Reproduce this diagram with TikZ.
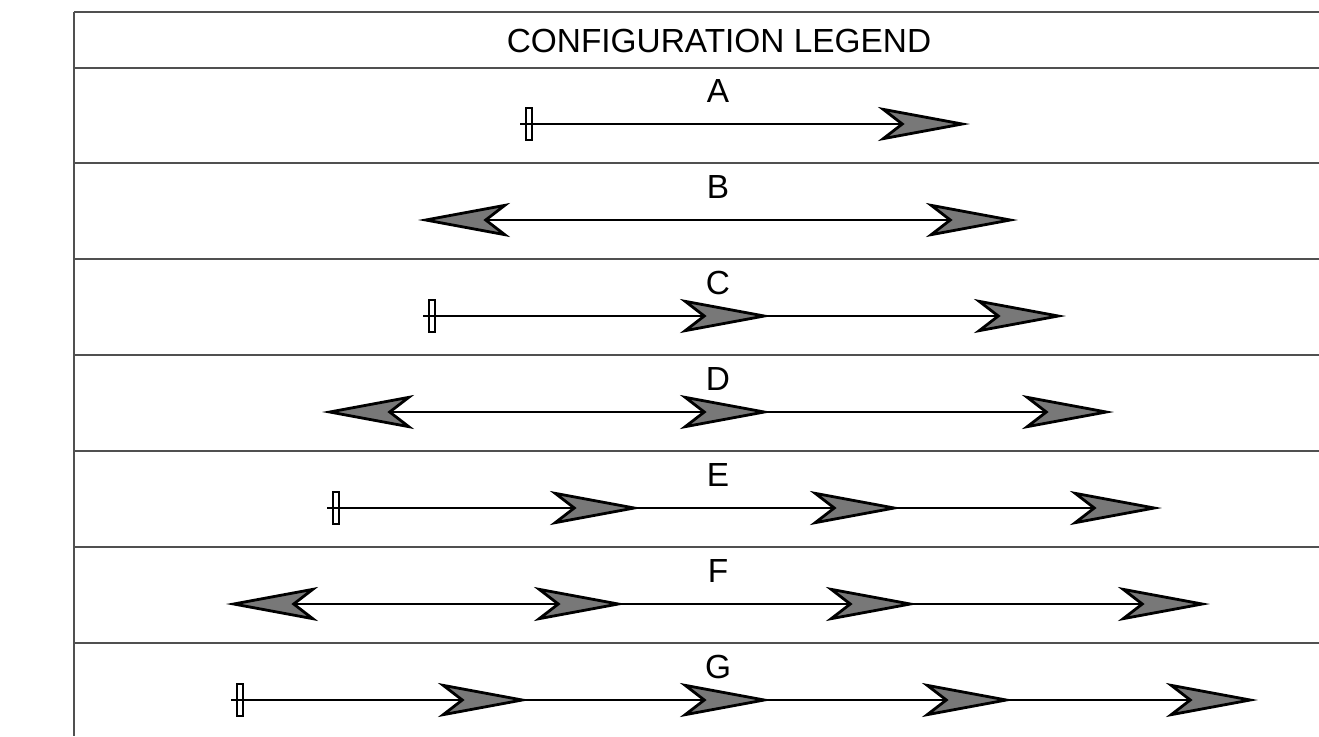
\documentclass[tikz,border=0pt]{standalone}
\usepackage{fontspec}
\setmainfont{Liberation Sans}
\usetikzlibrary{arrows.meta}
\definecolor{headgray}{RGB}{120,120,120}
\definecolor{rulegray}{RGB}{80,80,80}

\tikzset{
  >={Stealth[length=46pt,width=17pt,inset=11pt,fill=headgray]},
  tabline/.style={rulegray, line width=1pt},
  flow/.style={black, line width=1.4pt},
  marker/.style={draw, rectangle, line width=0.7pt, minimum width=3pt, minimum height=16pt, inner sep=0pt},
  lbl/.style={anchor=base, inner sep=0pt, font=\fontsize{16.7}{20}\selectfont}
}

\begin{document}
\begin{tikzpicture}[x=0.5pt,y=-0.5pt]
\useasboundingbox (0,0) rectangle (1319,736);

% table
\draw [tabline] (74,12) -- (74,736);
\foreach \y in {12,68,163,259,355,451,547,643}
  \draw [tabline] (74,\y) -- (1319,\y);

\node[lbl] (Title) at (719,52) {CONFIGURATION LEGEND};

% A
\node[lbl] (LabA) at (718,102) {A};
\node[marker] (MarkA) at (529,124) {};
\coordinate (A1) at (970,124);
\draw [flow,->] ([xshift=-2.5pt]MarkA.west) -- (A1);

% B
\node[lbl] (LabB) at (718,198) {B};
\coordinate (B0) at (418,220);
\coordinate (B1) at (1018,220);
\draw [flow,<->] (B0) -- (B1);

% C
\node[lbl] (LabC) at (718,294) {C};
\node[marker] (MarkC) at (432,316) {};
\coordinate (C1) at (772,316);
\coordinate (C2) at (1066,316);
\draw [flow] ([xshift=-2.5pt]MarkC.west) -- (C1);
\draw [flow,->] ([xshift=-2.5pt]MarkC.west) -- (C1);
\draw [flow,->] (C1) -- (C2);

% D
\node[lbl] (LabD) at (718,390) {D};
\coordinate (D0) at (322,412);
\coordinate (D1) at (772,412);
\coordinate (D2) at (1114,412);
\draw [flow] ([xshift=25pt]D0) -- (D1);
\draw [flow,<->] (D0) -- (D1);
\draw [flow,->] (D1) -- (D2);

% E
\node[lbl] (LabE) at (718,486) {E};
\node[marker] (MarkE) at (336,508) {};
\coordinate (E1) at (642,508);
\coordinate (E2) at (902,508);
\coordinate (E3) at (1162,508);
\draw [flow] ([xshift=-2.5pt]MarkE.west) -- (E2);
\draw [flow,->] ([xshift=-2.5pt]MarkE.west) -- (E1);
\draw [flow,->] (E1) -- (E2);
\draw [flow,->] (E2) -- (E3);

% F
\node[lbl] (LabF) at (718,582) {F};
\coordinate (F0) at (226,604);
\coordinate (F1) at (626,604);
\coordinate (F2) at (918,604);
\coordinate (F3) at (1210,604);
\draw [flow] ([xshift=25pt]F0) -- (F2);
\draw [flow,<->] (F0) -- (F1);
\draw [flow,->] (F1) -- (F2);
\draw [flow,->] (F2) -- (F3);

% G
\node[lbl] (LabG) at (718,678) {G};
\node[marker] (MarkG) at (240,700) {};
\coordinate (G1) at (530,700);
\coordinate (G2) at (772,700);
\coordinate (G3) at (1014,700);
\coordinate (G4) at (1258,700);
\draw [flow] ([xshift=-2.5pt]MarkG.west) -- (G3);
\draw [flow,->] ([xshift=-2.5pt]MarkG.west) -- (G1);
\draw [flow,->] (G1) -- (G2);
\draw [flow,->] (G2) -- (G3);
\draw [flow,->] (G3) -- (G4);

\end{tikzpicture}
\end{document}
